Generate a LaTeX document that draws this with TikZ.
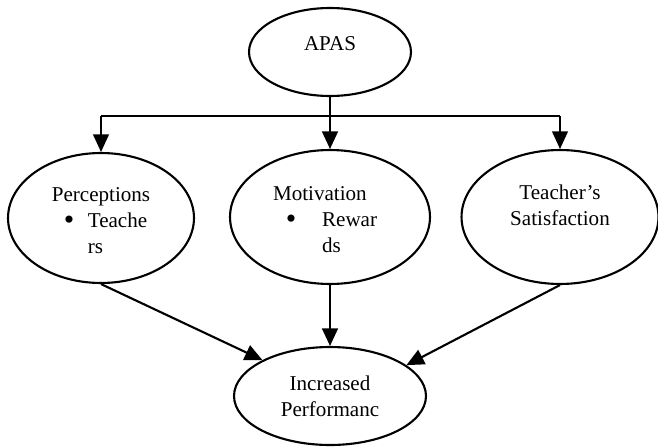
\documentclass[tikz,border=0pt]{standalone}
\usepackage{fontspec}
\setmainfont{Liberation Serif}
\usetikzlibrary{arrows.meta,positioning,shapes.geometric}
\newcommand\bigbul{{\fontsize{17}{17}\selectfont\raisebox{-0.9pt}{\textbullet}}}

\begin{document}
\begin{tikzpicture}[x=0.02cm,y=-0.02cm,
  font=\fontsize{12}{14.8}\selectfont,
  oval/.style={draw,ellipse,line width=1.2pt,inner sep=0},
  txt/.style={align=center,inner sep=0},
  lst/.style={align=left,inner sep=0},
  arr/.style={line width=1.2pt,-{Triangle[length=10pt,width=9pt]}}]
  \useasboundingbox (0,0) rectangle (658,446);
  \node[oval,minimum width=3.24cm,minimum height=1.76cm,
    label={[txt,yshift=4.5pt]center:APAS}] (apas) at (330,52) {};
  \node[oval,minimum width=3.72cm,minimum height=2.6cm,
    label={[lst,yshift=-1.7pt]center:{Perceptions\\
      \makebox[20.5pt][l]{\hspace{6.8pt}\bigbul}Teache\\\hspace*{20.5pt}rs}}] (percep) at (101,218) {};
  \node[oval,minimum width=4cm,minimum height=2.68cm,
    label={[lst,xshift=-2.8pt,yshift=-1.7pt]center:{Motivation\\
      \makebox[27.9pt][l]{\hspace{7.3pt}\bigbul}Rewar\\\hspace*{27.9pt}ds}}] (motiv) at (330,217) {};
  \node[oval,minimum width=3.94cm,minimum height=2.68cm,
    label={[txt,yshift=6.8pt]center:{Teacher's\\Satisfaction}}] (satisf) at (560,217) {};
  \node[oval,minimum width=3.84cm,minimum height=1.96cm,
    label={[txt]center:{Increased\\Performanc}}] (perform) at (330,396) {};
  \coordinate (bar) at (330,116);
  \draw[line width=0.6pt] (percep.north |- bar) -- (satisf.north |- bar);
  \draw[arr,line width=0.9pt] (percep.north |- bar) -- (percep.north);
  \draw[arr,line width=0.9pt] (satisf.north |- bar) -- (satisf.north);
  \draw[arr] (apas) -- (motiv);
  \draw[arr] (percep.south) -- (perform.152);
  \draw[arr] (motiv) -- (perform);
  \draw[arr] (satisf.south) -- (perform.22);
\end{tikzpicture}
\end{document}
